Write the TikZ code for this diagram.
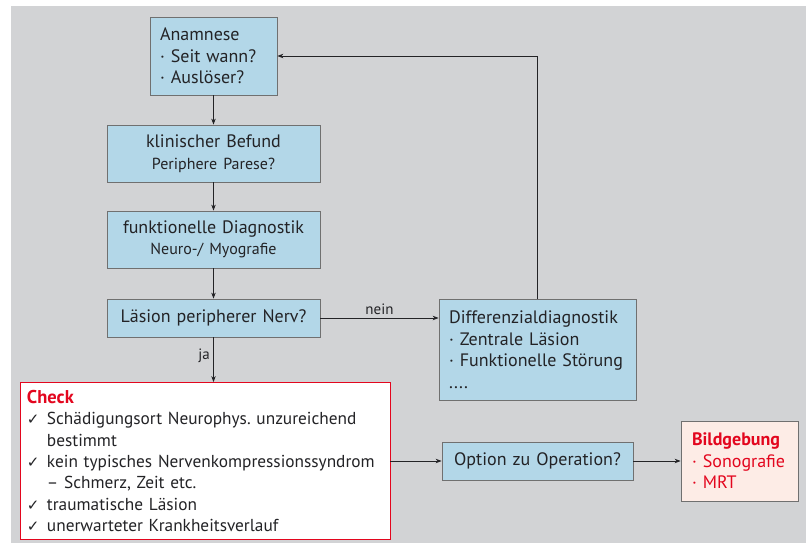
\documentclass[tikz,border=0pt]{standalone}
\usepackage{fontspec}
\setmainfont{PT Sans}
\newfontfamily\symfont{DejaVu Sans}
\usetikzlibrary{arrows.meta}
\frenchspacing

\definecolor{bgray}{RGB}{210,211,213}
\definecolor{boxblue}{RGB}{179,215,232}
\definecolor{boxline}{RGB}{112,112,112}
\definecolor{signal}{RGB}{227,6,30}
\definecolor{rose}{RGB}{253,236,230}
\definecolor{ink}{RGB}{35,35,38}

\newcommand{\chk}{\makebox[20pt][l]{\symfont\fontsize{15}{15}\selectfont ✓}}
\newcommand{\hang}{\hspace*{20pt}}
\newcommand{\subline}{\fontsize{16}{21.5}\selectfont}

\begin{document}
\begin{tikzpicture}[x=1pt,y=-1pt,
		infobox/.style={draw=boxline, fill=boxblue, line width=0.8pt, text=ink, inner ysep=0pt},
		checkbox/.style={draw=signal, fill=white, line width=0.8pt, text=ink, inner ysep=0pt},
		imgbox/.style={draw=boxline, fill=rose, line width=0.8pt, text=signal, inner ysep=0pt},
		arr/.style={draw=ink, line width=0.8pt, -{Stealth[length=6pt,width=4.5pt]}},
		every node/.style={font=\fontsize{18}{21.5}\selectfont}
		]
		\useasboundingbox (0,0) rectangle (808,545);
		\fill[bgray] (11,6) rectangle (806,543);

		% linke Spalte
		\node[infobox, align=left, inner xsep=10pt, text width=107pt, minimum height=78pt] (anam) at (213.5,56)
			{Anamnese\\· Seit wann?\\· Auslöser?};
		\node[infobox, align=center, inner xsep=10pt, text width=193pt, minimum height=57pt] (befund) at (213.5,153.5)
			{klinischer Befund\\{\subline Periphere Parese?}};
		\node[infobox, align=center, inner xsep=10pt, text width=193pt, minimum height=57pt] (funkt) at (213.5,239.5)
			{funktionelle Diagnostik\\{\subline Neuro-/ Myografie}};
		\node[infobox, align=center, inner xsep=10pt, text width=193pt, minimum height=38pt] (laesion) at (213.5,318)
			{Läsion peripherer Nerv?};
		\node[checkbox, align=left, inner xsep=7pt, text width=356pt, minimum height=157pt,
			font=\fontsize{17.3}{21.3}\selectfont] (check) at (205,461)
			{\textcolor{signal}{\fontsize{18.5}{21.3}\selectfont\bfseries Check}\\
			\chk\mbox{Schädigungsort Neurophys. unzureichend}\\
			\hang bestimmt\\
			\chk\mbox{kein typisches Nervenkompressionssyndrom}\\
			\hang – Schmerz, Zeit etc.\\
			\chk traumatische Läsion\\
			\chk unerwarteter Krankheitsverlauf};

		% rechte Spalte
		\node[infobox, align=left, inner xsep=10pt, text width=177pt, minimum height=101pt] (diff) at (537.5,349.5)
			{Differenzialdiagnostik\\· Zentrale Läsion\\· Funktionelle Störung\\....};
		\node[infobox, align=center, inner xsep=5pt, text width=181pt, minimum height=38pt] (option) at (537.5,461)
			{Option zu Operation?};
		\node[imgbox, align=left, inner xsep=11pt, text width=95pt, minimum height=80pt] (bild) at (739.5,461)
			{{\bfseries Bildgebung}\\· Sonografie\\· MRT};

		% Pfeile
		\draw[arr] (anam) -- (befund);
		\draw[arr] (befund) -- (funkt);
		\draw[arr] (funkt) -- (laesion);
		\draw[arr] (laesion.south) -- node[left, pos=0.4, text=ink, font=\fontsize{15}{15}\selectfont]{ja} (laesion.south |- check.north);
		\draw[arr] (laesion.east) -- node[above, text=ink, font=\fontsize{15}{15}\selectfont]{nein} (laesion.east -| diff.west);
		\draw[arr] (diff.north) |- (anam.east);
		\draw[arr] (check) -- (option);
		\draw[arr] (option) -- (bild);
	\end{tikzpicture}
\end{document}
